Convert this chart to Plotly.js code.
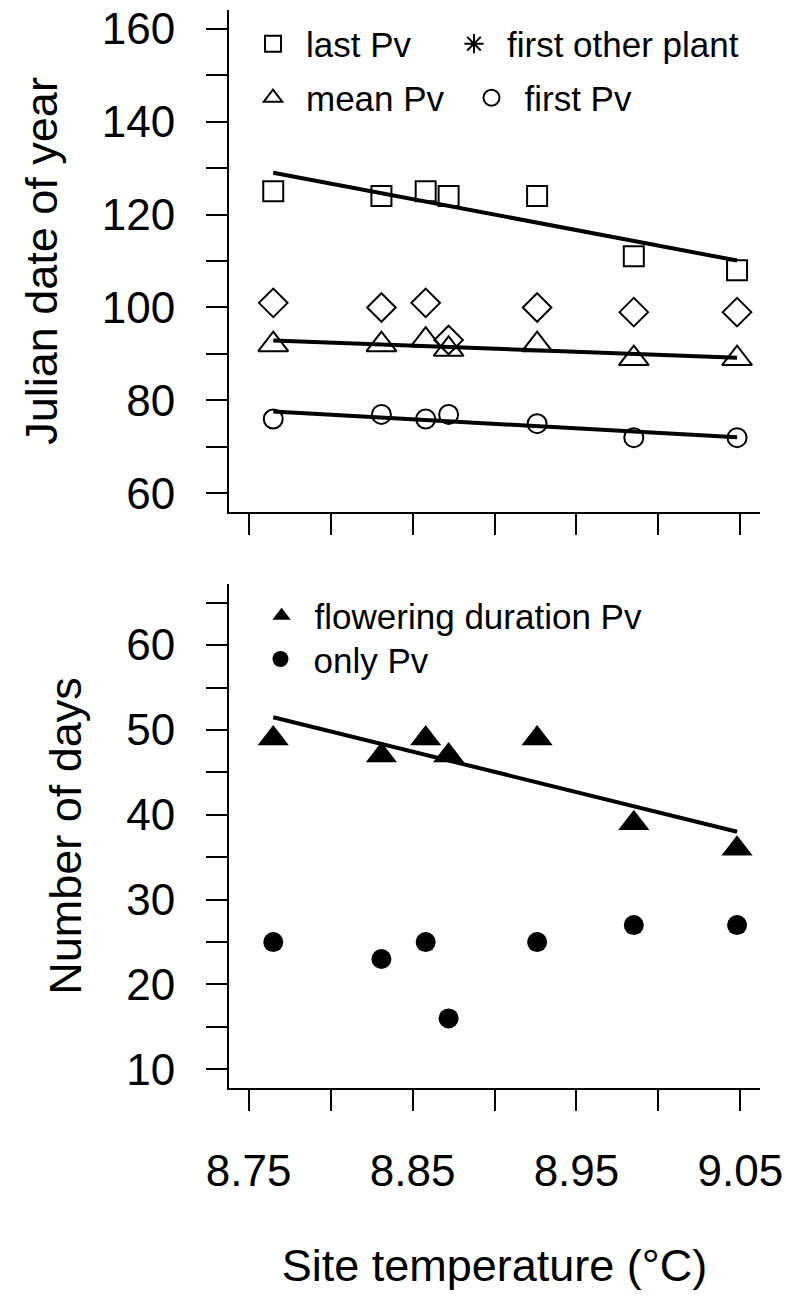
<!DOCTYPE html>
<html>
<head>
<meta charset="utf-8">
<script src="https://cdn.plot.ly/plotly-3.0.1.min.js"></script>
<style>html,body{margin:0;padding:0;background:#fff;}#chart{width:786px;height:1308px;}</style>
</head>
<body>
<div id="chart"></div>
<script>
// ---- data ----
const temperature = [8.765, 8.831, 8.858, 8.872, 8.926, 8.985, 9.048];
const lastPv      = [125, 124, 125, 124, 124, 111, 108];
const firstOther  = [101, 100, 101, 93, 100, 99, 99];
const meanPv      = [92, 92, 93, 91, 92, 89, 89];
const firstPv     = [76, 77, 76, 77, 75, 72, 72];
const durationPv  = [49, 47, 49, 47, 49, 39, 36];
const onlyPv      = [25, 23, 25, 16, 25, 27, 27];
// fitted regression lines (end points)
const fitX        = [8.765, 9.048];
const fitLast     = [129.0, 110.1];
const fitMean     = [92.9, 89.2];
const fitFirst    = [77.6, 72.1];
const fitDuration = [51.5, 38.0];
// ticks
const xTickVals   = [8.75, 8.80, 8.85, 8.90, 8.95, 9.00, 9.05];
const xTickText   = ['8.75', '', '8.85', '', '8.95', '', '9.05'];
const yTopVals    = [60, 70, 80, 90, 100, 110, 120, 130, 140, 150, 160];
const yTopText    = ['60', '', '80', '', '100', '', '120', '', '140', '', '160'];
const yBotVals    = [10, 15, 20, 25, 30, 35, 40, 45, 50, 55, 60, 65];
const yBotText    = ['10', '', '20', '', '30', '', '40', '', '50', '', '60', ''];

const FONT = 'Liberation Sans, Arial, sans-serif';
const BLACK = '#000';

const openMarker = (symbol, size) => ({symbol: symbol, size: size, color: BLACK, line: {color: BLACK, width: 2}});

const traces = [
  // top panel
  {x: temperature, y: lastPv, type: 'scatter', mode: 'markers', name: 'last Pv', xaxis: 'x2', yaxis: 'y2',
   marker: openMarker('square-open', 20), legend: 'legend'},
  {x: [null], y: [null], type: 'scatter', mode: 'markers', name: 'first other plant', xaxis: 'x2', yaxis: 'y2',
   marker: openMarker('asterisk-open', 16), legend: 'legend2'},
  {x: temperature, y: firstOther, type: 'scatter', mode: 'markers', name: 'first other plant', xaxis: 'x2', yaxis: 'y2',
   marker: openMarker('diamond-open', 22), showlegend: false},
  {x: temperature, y: meanPv, type: 'scatter', mode: 'markers', name: 'mean Pv', xaxis: 'x2', yaxis: 'y2',
   marker: openMarker('triangle-up-open', 26), legend: 'legend3'},
  {x: temperature, y: firstPv, type: 'scatter', mode: 'markers', name: 'first Pv', xaxis: 'x2', yaxis: 'y2',
   marker: openMarker('circle-open', 19), legend: 'legend4'},
  {x: fitX, y: fitLast, type: 'scatter', mode: 'lines', xaxis: 'x2', yaxis: 'y2', showlegend: false, line: {color: BLACK, width: 4}},
  {x: fitX, y: fitMean, type: 'scatter', mode: 'lines', xaxis: 'x2', yaxis: 'y2', showlegend: false, line: {color: BLACK, width: 4}},
  {x: fitX, y: fitFirst, type: 'scatter', mode: 'lines', xaxis: 'x2', yaxis: 'y2', showlegend: false, line: {color: BLACK, width: 4}},
  // bottom panel
  {x: temperature, y: durationPv, type: 'scatter', mode: 'markers', name: 'flowering duration Pv', xaxis: 'x', yaxis: 'y',
   marker: {symbol: 'triangle-up', size: 27, color: BLACK}, legend: 'legend5'},
  {x: temperature, y: onlyPv, type: 'scatter', mode: 'markers', name: 'only Pv', xaxis: 'x', yaxis: 'y',
   marker: {symbol: 'circle', size: 20, color: BLACK}, legend: 'legend6'},
  {x: fitX, y: fitDuration, type: 'scatter', mode: 'lines', xaxis: 'x', yaxis: 'y', showlegend: false, line: {color: BLACK, width: 4}}
];

const axisCommon = {
  showline: true, linecolor: BLACK, linewidth: 2, mirror: false,
  ticks: 'outside', ticklen: 21, tickwidth: 2, tickcolor: BLACK,
  showgrid: false, zeroline: false, tickmode: 'array',
  tickfont: {family: FONT, size: 44, color: BLACK}
};

const legendBase = (x, y) => ({x: x, y: y, xanchor: 'left', yanchor: 'middle', bgcolor: 'rgba(0,0,0,0)',
  borderwidth: 0, itemwidth: 56, font: {family: FONT, size: 35, color: BLACK}, orientation: 'v'});

const layout = {
  width: 786, height: 1308,
  margin: {l: 229, r: 26, t: 10, b: 220, pad: 0},
  paper_bgcolor: '#fff', plot_bgcolor: '#fff',
  showlegend: true,
  font: {family: FONT, color: BLACK},
  xaxis: Object.assign({}, axisCommon, {
    anchor: 'y', domain: [0, 1], range: [8.738, 9.062],
    tickvals: xTickVals, ticktext: xTickText, ticklabelstandoff: 22,
    title: {text: 'Site temperature (°C)', font: {family: FONT, size: 45, color: BLACK}, standoff: 56}
  }),
  yaxis: Object.assign({}, axisCommon, {
    anchor: 'x', domain: [0, 0.46753], range: [7.8, 67.2],
    tickvals: yBotVals, ticktext: yBotText, ticklabelstandoff: 22,
    title: {text: 'Number of days', font: {family: FONT, size: 45, color: BLACK}, standoff: 30}
  }),
  xaxis2: Object.assign({}, axisCommon, {
    anchor: 'y2', domain: [0, 1], range: [8.738, 9.062],
    tickvals: xTickVals, ticktext: ['', '', '', '', '', '', '']
  }),
  yaxis2: Object.assign({}, axisCommon, {
    anchor: 'x2', domain: [0.53432, 1], range: [56, 164],
    tickvals: yTopVals, ticktext: yTopText, ticklabelstandoff: 22,
    title: {text: 'Julian date of year', font: {family: FONT, size: 45, color: BLACK}, standoff: 30}
  }),
  legend:  legendBase(0.0207, 0.9685),
  legend2: legendBase(0.3992, 0.9685),
  legend3: legendBase(0.0207, 0.9184),
  legend4: legendBase(0.4322, 0.9184),
  legend5: legendBase(0.0369, 0.4378),
  legend6: legendBase(0.0348, 0.3977)
};

Plotly.newPlot('chart', traces, layout, {staticPlot: true, displayModeBar: false});
</script>
</body>
</html>
